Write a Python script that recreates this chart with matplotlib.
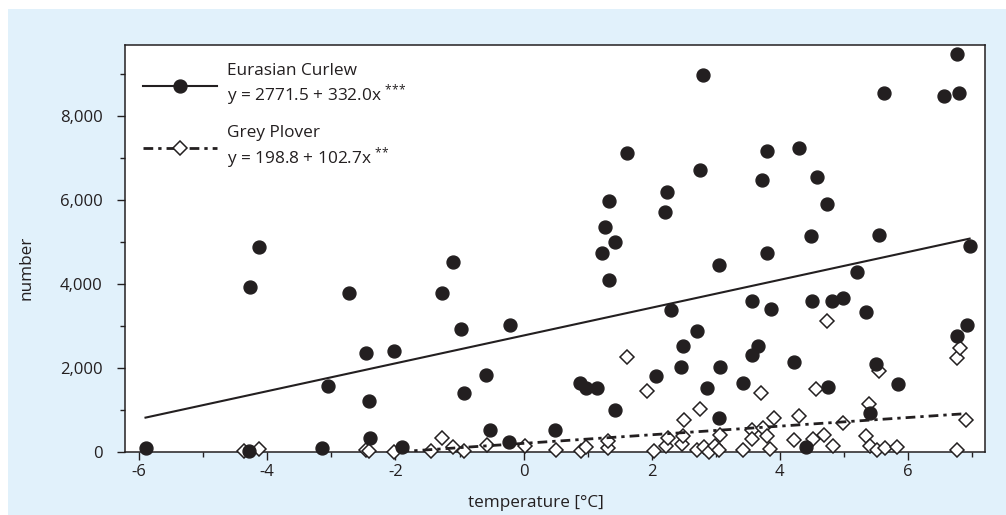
import matplotlib
matplotlib.use("Agg")
import matplotlib.pyplot as plt
from matplotlib.lines import Line2D
from matplotlib.patches import Rectangle
from matplotlib.ticker import MultipleLocator, FuncFormatter
import numpy as np

# ---- data ----
curlew_x = [-5.90, -4.29, -4.27, -4.13, -3.14, -3.06, -2.73, -2.46, -2.42, -2.40,
            -2.02, -1.89, -1.28, -1.10, -0.98, -0.93, -0.58, -0.53, -0.23, -0.21,
            0.49, 0.88, 0.97, 1.14, 1.22, 1.27, 1.33, 1.34, 1.42, 1.43,
            1.61, 2.07, 2.21, 2.24, 2.30, 2.46, 2.49, 2.71, 2.76, 2.80,
            2.86, 3.05, 3.05, 3.07, 3.43, 3.56, 3.56, 3.65, 3.72, 3.80,
            3.80, 3.86, 4.22, 4.30, 4.40, 4.48, 4.50, 4.58, 4.74, 4.75,
            4.82, 4.98, 5.21, 5.34, 5.40, 5.50, 5.54, 5.63, 5.84, 6.56,
            6.76, 6.77, 6.80, 6.92, 6.96]
curlew_y = [100, 10, 3930, 4890, 100, 1570, 3780, 2350, 1220, 320,
            2400, 105, 3780, 4515, 2920, 1405, 1830, 517, 224, 3010,
            517, 1630, 1510, 1510, 4750, 5350, 5985, 4095, 5005, 995,
            7115, 1805, 5715, 6200, 3380, 2010, 2520, 2875, 6730, 8980,
            1510, 4445, 810, 2010, 1630, 3600, 2300, 2520, 6480, 7170,
            4730, 3410, 2130, 7245, 120, 5140, 3600, 6550, 5905, 1550,
            3600, 3655, 4285, 3340, 930, 2090, 5165, 8545, 1615, 8490,
            2765, 9495, 8560, 3020, 4905]

plover_x = [-4.37, -4.13, -2.46, -2.42, -2.02, -1.44, -1.27, -1.10, -0.93, -0.57,
            0.02, 0.50, 0.90, 0.98, 1.31, 1.32, 1.61, 1.93, 2.03, 2.22,
            2.25, 2.47, 2.49, 2.51, 2.70, 2.76, 2.82, 2.89, 2.99, 3.06,
            3.05, 3.43, 3.56, 3.57, 3.70, 3.73, 3.80, 3.84, 3.90, 4.22,
            4.30, 4.52, 4.57, 4.68, 4.73, 4.83, 4.98, 5.34, 5.39, 5.41,
            5.51, 5.55, 5.64, 5.83, 6.76, 6.77, 6.81, 6.91]
plover_y = [10, 60, 30, 10, 0, 20, 330, 105, 10, 160,
            140, 40, 20, 120, 100, 260, 2265, 1455, 20, 136,
            330, 183, 380, 756, 40, 1010, 110, 0, 130, 398,
            40, 30, 517, 300, 1410, 565, 380, 60, 810, 280,
            860, 295, 1487, 405, 3120, 136, 685, 374, 1130, 130,
            40, 1931, 100, 105, 30, 2226, 2465, 765]

curlew_fit = (2771.5, 332.0)
plover_fit = (198.8, 102.7)
curlew_label = "Eurasian Curlew\ny = 2771.5 + 332.0x $^{\\text{***}}$"
plover_label = "Grey Plover\ny = 198.8 + 102.7x $^{\\text{**}}$"
x_ticks = [-6, -4, -2, 0, 2, 4, 6]
y_ticks = [0, 2000, 4000, 6000, 8000]

# ---- style ----
plt.rcParams['font.family'] = ['Open Sans', 'DejaVu Sans']
plt.rcParams['axes.unicode_minus'] = False
plt.rcParams['mathtext.default'] = 'regular'
plt.rcParams['mathtext.fontset'] = 'custom'
plt.rcParams['mathtext.rm'] = 'Open Sans'
FS = 12.0
LFS = 12.4
TXT = '#231f20'
BG = '#e1f1fb'

fig = plt.figure(figsize=(10.06, 5.15), dpi=100)
fig.patch.set_facecolor('white')
fig.patches.append(Rectangle((8 / 1006, 0), 1 - 8 / 1006, 1 - 9 / 515,
                             transform=fig.transFigure, facecolor=BG,
                             edgecolor='none', zorder=-10))

ax = fig.add_axes([125 / 1006, (515 - 451.7) / 515, 860 / 1006, (451.7 - 45) / 515])
ax.set_facecolor('white')
ax.set_xlim(-6.22, 7.20)
ax.set_ylim(0, 9700)

# plover
ax.plot(plover_x, plover_y, linestyle='none', marker='D', markersize=7.5,
        markerfacecolor='white', markeredgecolor=TXT, markeredgewidth=1.1,
        clip_on=False, zorder=3)
# curlew
ax.plot(curlew_x, curlew_y, linestyle='none', marker='o', markersize=9.3,
        markerfacecolor=TXT, markeredgecolor=TXT, clip_on=False, zorder=4)

# regression lines
cx = np.array([min(curlew_x), max(curlew_x)])
ax.plot(cx, curlew_fit[0] + curlew_fit[1] * cx, color=TXT, lw=1.5, zorder=5)
x0 = max(min(plover_x), -plover_fit[0] / plover_fit[1])
px = np.array([x0, max(plover_x)])
ax.plot(px, plover_fit[0] + plover_fit[1] * px, color=TXT, lw=2.0,
        dashes=(3.5, 1.8, 1.2, 1.8), zorder=5)

# axes styling
for s in ax.spines.values():
    s.set_linewidth(1.1)
    s.set_color(TXT)
ax.set_xticks(x_ticks)
ax.xaxis.set_minor_locator(MultipleLocator(1))
ax.set_yticks(y_ticks)
ax.yaxis.set_minor_locator(MultipleLocator(1000))
ax.yaxis.set_major_formatter(FuncFormatter(lambda v, p: f"{int(v):,}"))
ax.tick_params(which='major', direction='out', length=6, width=1.0, color=TXT,
               labelsize=FS, labelcolor=TXT)
ax.tick_params(which='minor', direction='out', length=3.5, width=1.0, color=TXT)
ax.tick_params(axis='y', which='major', pad=10)
ax.tick_params(axis='x', which='major', pad=3)
ax.set_xlabel('temperature [°C]', fontsize=12.3, color=TXT)
ax.set_ylabel('number', fontsize=12.3, color=TXT)
ax.xaxis.set_label_coords((536 - 125) / 860, -(495 - 451.7) / 406.7)
ax.yaxis.set_label_coords(-(125 - 35) / 860, (451.7 - 268) / 406.7)

# legend
h1 = Line2D([], [], color=TXT, lw=1.5, marker='o', markersize=9.3,
            markerfacecolor=TXT, markeredgecolor=TXT)
h2 = Line2D([], [], color=TXT, lw=2.0, dashes=(3.5, 1.8, 1.2, 1.8), marker='D',
            markersize=7.5, markerfacecolor='white', markeredgecolor=TXT,
            markeredgewidth=1.1)
leg = ax.legend([h1, h2], [curlew_label, plover_label], loc='upper left',
                frameon=False, fontsize=LFS, handlelength=4.3, handletextpad=0.55,
                labelspacing=1.0, borderaxespad=0.65, borderpad=0.4)
for t in leg.get_texts():
    t.set_color(TXT)
    t.set_linespacing(1.18)

fig.savefig('out.png', dpi=100, facecolor=fig.get_facecolor())
